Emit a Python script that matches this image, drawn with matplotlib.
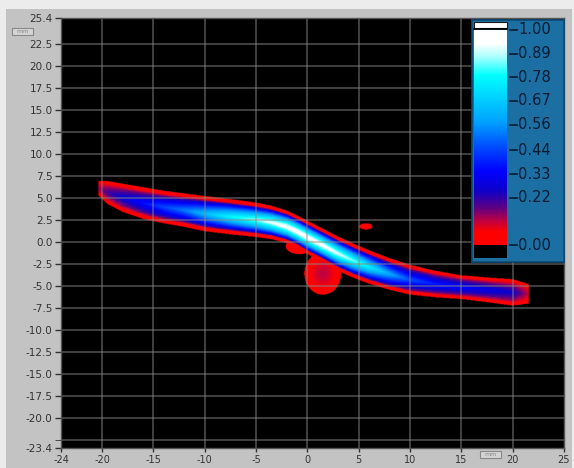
import numpy as np
import matplotlib
matplotlib.use("Agg")
import matplotlib.pyplot as plt
from matplotlib.colors import LinearSegmentedColormap
from matplotlib.patches import Rectangle

# centre line of the bright band, its half width and peak level
band_x = [-20.4, -19.5, -18, -16, -14, -12, -10, -7.5, -5, -3.5, -2, -1, 0, 1.5, 3, 4.5, 6, 8, 10, 12.5, 15, 17.5, 20, 21.6]
band_y = [6.1, 5.6, 5.0, 4.4, 3.95, 3.6, 3.2, 2.85, 2.5, 2.2, 1.7, 1.15, 0.5, -0.4, -1.35, -2.15, -2.85, -3.65, -4.3, -4.8, -5.15, -5.45, -5.75, -5.9]
band_half = [0.8, 1.3, 1.6, 1.8, 1.85, 1.9, 2.0, 2.0, 1.95, 1.9, 1.85, 1.85, 1.9, 1.9, 1.95, 1.95, 1.9, 1.8, 1.7, 1.5, 1.35, 1.4, 1.5, 1.1]
band_peak = [0.12, 0.2, 0.28, 0.36, 0.45, 0.52, 0.64, 0.78, 0.88, 0.94, 0.98, 1.0, 1.0, 0.98, 0.93, 0.86, 0.76, 0.6, 0.46, 0.38, 0.34, 0.3, 0.26, 0.1]

# small separate spots (drip under the band, fringe, little dash above)
spot_x = [1.5, -0.8, 5.7]
spot_y = [-3.6, -0.5, 1.75]
spot_rx = [1.8, 1.3, 0.65]
spot_ry = [2.4, 0.9, 0.35]
spot_peak = [0.12, 0.06, 0.05]

x_ticks = [-24, -20, -15, -10, -5, 0, 5, 10, 15, 20, 25]
y_ticks = [25.4, 22.5, 20.0, 17.5, 15.0, 12.5, 10.0, 7.5, 5.0, 2.5, 0.0, -2.5, -5.0,
           -7.5, -10.0, -12.5, -15.0, -17.5, -20.0, -23.4]
grid_x = [-20, -15, -10, -5, 0, 5, 10, 15, 20]
grid_y = [22.5, 20.0, 17.5, 15.0, 12.5, 10.0, 7.5, 5.0, 2.5, 0.0, -2.5, -5.0,
          -7.5, -10.0, -12.5, -15.0, -17.5, -20.0, -22.5]
cbar_ticks = [1.00, 0.89, 0.78, 0.67, 0.56, 0.44, 0.33, 0.22, 0.00]

xmin, xmax, ymin, ymax = -24, 25, -23.4, 25.4

cmap = LinearSegmentedColormap.from_list("beam", [
    (0.00, "#ff0000"), (0.06, "#ff0000"), (0.11, "#c00040"), (0.17, "#600080"),
    (0.25, "#1000c8"), (0.34, "#0000ff"), (0.45, "#0048ff"), (0.57, "#00a0ff"),
    (0.70, "#00d8ff"), (0.79, "#00ffff"), (0.88, "#b0ffff"), (0.94, "#ffffff"),
    (1.00, "#ffffff")])
cmap.set_under("black")


def profile(t):
    return np.clip(1 - t / 0.8, 0, 1) ** 0.62


# build the image
xs = np.linspace(xmin, xmax, 900)
ys = np.linspace(ymin, ymax, 900)
X, Y = np.meshgrid(xs, ys)
cy = np.interp(xs, band_x, band_y)
hw = np.interp(xs, band_x, band_half)
pk = np.interp(xs, band_x, band_peak)
t = np.abs(Y - cy[None, :]) / hw[None, :]
inside = (t < 1) & (X >= band_x[0]) & (X <= band_x[-1])
field = np.where(inside, 0.03 + (pk[None, :] - 0.03) * profile(t), -1.0)

for sx, sy, rx, ry, sp in zip(spot_x, spot_y, spot_rx, spot_ry, spot_peak):
    r = np.sqrt(((X - sx) / rx) ** 2 + ((Y - sy) / ry) ** 2)
    v = np.where(r < 1, 0.03 + (sp - 0.03) * profile(r), -1.0)
    field = np.maximum(field, v)

W, H = 574, 468
fig = plt.figure(figsize=(W / 100, H / 100), dpi=100, facecolor="#ececec")


def fx(px):
    return px / W


def fy(py):
    return 1 - py / H


# grey panel
fig.add_artist(Rectangle((fx(6), 0), fx(572) - fx(6), fy(9), transform=fig.transFigure,
                         facecolor="#c3c3c3", edgecolor="none", zorder=-5))

ax = fig.add_axes([fx(61), fy(448), fx(564) - fx(61), fy(18) - fy(448)])
ax.set_facecolor("black")
ax.imshow(field, origin="lower", extent=[xmin, xmax, ymin, ymax], cmap=cmap,
          vmin=0, vmax=1, aspect="auto", interpolation="bilinear", zorder=1)
for gx in grid_x:
    ax.axvline(gx, color="#8a8a8a", lw=1.3, alpha=0.5, zorder=2)
for gy in grid_y:
    ax.axhline(gy, color="#8a8a8a", lw=1.3, alpha=0.5, zorder=2)
ax.set_xlim(xmin, xmax)
ax.set_ylim(ymin, ymax)
ax.set_xticks(x_ticks)
ax.set_xticklabels([str(v) for v in x_ticks])
ax.set_yticks(y_ticks)
ax.set_yticklabels([f"{v:.1f}" for v in y_ticks])
ax.set_yticks([-22.5], minor=True)
ax.tick_params(axis="both", labelsize=7.5, labelcolor="#333333", color="#333333",
               direction="out", length=4, width=1)
ax.tick_params(axis="x", pad=2, length=3, labelsize=7)
ax.tick_params(axis="y", pad=2)
ax.tick_params(which="minor", length=4, color="#333333")
for s in ax.spines.values():
    s.set_color("#555555")
    s.set_linewidth(1)

# unit boxes
for bx, by in [(12, 28), (480, 451)]:
    fig.add_artist(Rectangle((fx(bx), fy(by + 7)), fx(21), 7 / H, transform=fig.transFigure,
                             facecolor="#d4d4d4", edgecolor="#8a8a8a", lw=0.8, zorder=5))
    fig.text(fx(bx + 10.5), fy(by + 3.5), "mm", fontsize=4.5, color="#8a8a8a",
             ha="center", va="center", zorder=6)

# colour scale panel, drawn in pixel units
pax = fig.add_axes([fx(472), fy(262), fx(564) - fx(472), fy(20) - fy(262)])
pax.set_facecolor("#1b6fa3")
pax.set_xticks([])
pax.set_yticks([])
for s in pax.spines.values():
    s.set_color("#0d4a75")
    s.set_linewidth(1.2)

bar_left, bar_right, bar_bottom, bar_top = 474, 507, 245, 30
grad = np.linspace(0, 1, 256)[:, None]
pax.imshow(grad, origin="lower", extent=[bar_left, bar_right, bar_bottom, bar_top],
           cmap=cmap, vmin=0, vmax=1, aspect="auto", interpolation="bilinear")
pax.add_patch(Rectangle((bar_left, 22), bar_right - bar_left, 6, facecolor="white",
                        edgecolor="#1b1b1b", lw=0.8))
pax.plot([bar_left, bar_right], [29, 29], color="black", lw=1.2)
pax.add_patch(Rectangle((bar_left, bar_bottom), bar_right - bar_left, 13, facecolor="black",
                        edgecolor="none"))
pax.set_xlim(472, 564)
pax.set_ylim(262, 20)

for v in cbar_ticks:
    py = bar_bottom + v * (bar_top - bar_bottom)
    pax.plot([510, 517], [py, py], color="#0a1a30", lw=1.2)
    pax.text(518, py, f"{v:.2f}", fontsize=10.5, color="#0a1a30", ha="left", va="center")

fig.savefig("out.png", dpi=100, facecolor=fig.get_facecolor())
